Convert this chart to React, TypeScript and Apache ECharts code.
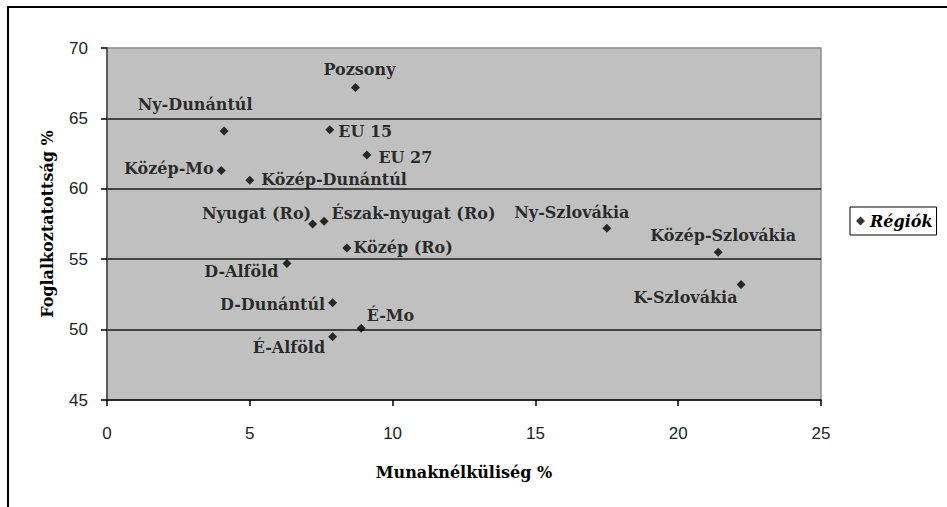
import React, { useEffect, useRef } from "react";
import * as echarts from "echarts";

const regions = [
  "Pozsony", "Ny-Dunántúl", "EU 15", "EU 27", "Közép-Mo", "Közép-Dunántúl",
  "Nyugat (Ro)", "Észak-nyugat (Ro)", "Közép (Ro)", "D-Alföld", "D-Dunántúl",
  "É-Mo", "É-Alföld", "Ny-Szlovákia", "Közép-Szlovákia", "K-Szlovákia",
];
const unemployment = [8.7, 4.1, 7.8, 9.1, 4.0, 5.0, 7.2, 7.6, 8.4, 6.3, 7.9, 8.9, 7.9, 17.5, 21.4, 22.2];
const employment = [67.2, 64.1, 64.2, 62.4, 61.3, 60.6, 57.5, 57.7, 55.8, 54.7, 51.9, 50.1, 49.5, 57.2, 55.5, 53.2];
const xTicks = { min: 0, max: 25, interval: 5 };
const yTicks = { min: 45, max: 70, interval: 5 };
const seriesName = "Régiók";
const xTitle = "Munaknélküliség %";
const yTitle = "Foglalkoztatottság %";

// label placement (style only)
const labelPlace: Record<string, { position: string; offset: [number, number] }> = {
  "Pozsony": { position: "top", offset: [4, 0] },
  "Ny-Dunántúl": { position: "top", offset: [-29, -9] },
  "EU 15": { position: "right", offset: [-1, 2] },
  "EU 27": { position: "right", offset: [2, 2] },
  "Közép-Mo": { position: "left", offset: [2, -2] },
  "Közép-Dunántúl": { position: "right", offset: [2, -1] },
  "Nyugat (Ro)": { position: "left", offset: [8, -11] },
  "Észak-nyugat (Ro)": { position: "right", offset: [-2, -8] },
  "Közép (Ro)": { position: "right", offset: [-3, 0] },
  "D-Alföld": { position: "left", offset: [1, 8] },
  "D-Dunántúl": { position: "left", offset: [2, 2] },
  "É-Mo": { position: "right", offset: [-4, -13] },
  "É-Alföld": { position: "left", offset: [2, 11] },
  "Ny-Szlovákia": { position: "top", offset: [-35, 2] },
  "Közép-Szlovákia": { position: "top", offset: [5, 1] },
  "K-Szlovákia": { position: "left", offset: [6, 13] },
};

const serifBold = "'DejaVu Serif', 'Liberation Serif', serif";

export default function App() {
  const ref = useRef<HTMLDivElement>(null);
  useEffect(() => {
    if (!ref.current) return;
    const chart = echarts.init(ref.current, null, { renderer: "svg" });
    const data = regions.map((name, i) => {
      const p = labelPlace[name];
      return {
        name,
        value: [unemployment[i], employment[i]],
        label: { position: p.position, distance: 5 },
      };
    });
    chart.setOption({
      animation: false,
      backgroundColor: "#ffffff",
      graphic: [
        {
          type: "rect",
          z: -1,
          silent: true,
          shape: { x: 8, y: 7, width: 1000, height: 600 },
          style: { fill: "none", stroke: "#000", lineWidth: 2 },
        },
      ],
      grid: {
        left: 107,
        right: 126,
        top: 48,
        bottom: 107,
        show: true,
        backgroundColor: "#c0c0c0",
        borderColor: "#8a8a8a",
        borderWidth: 1.5,
      },
      legend: {
        left: 850,
        top: 207,
        orient: "vertical",
        icon: "diamond",
        itemWidth: 9,
        itemHeight: 9,
        itemGap: 4,
        padding: [6, 4, 6, 6],
        borderColor: "#000",
        borderWidth: 1,
        backgroundColor: "#fff",
        textStyle: {
          fontFamily: serifBold,
          fontWeight: "bold",
          fontStyle: "italic",
          fontSize: 16,
          color: "#000",
        },
        data: [seriesName],
      },
      xAxis: {
        type: "value",
        min: xTicks.min,
        max: xTicks.max,
        interval: xTicks.interval,
        name: xTitle,
        nameLocation: "middle",
        nameGap: 64,
        nameTextStyle: { fontFamily: serifBold, fontWeight: "bold", fontSize: 16, color: "#000" },
        axisLine: { show: true, lineStyle: { color: "#000", width: 1.5 } },
        axisTick: { show: true, length: 6, inside: false, lineStyle: { color: "#000", width: 1.5 } },
        axisLabel: {
          margin: 25,
          fontFamily: "'Liberation Sans Narrow', 'Liberation Sans', sans-serif",
          fontSize: 17,
          color: "#222",
        },
        splitLine: { show: false },
      },
      yAxis: {
        type: "value",
        min: yTicks.min,
        max: yTicks.max,
        interval: yTicks.interval,
        name: yTitle,
        nameLocation: "middle",
        nameGap: 52,
        nameRotate: 90,
        nameTextStyle: { fontFamily: serifBold, fontWeight: "bold", fontSize: 16, color: "#000" },
        axisLine: { show: true, lineStyle: { color: "#444", width: 1.5 } },
        axisTick: { show: true, length: 6, inside: false, lineStyle: { color: "#000", width: 1.5 } },
        axisLabel: {
          margin: 19,
          fontFamily: "'Liberation Sans Narrow', 'Liberation Sans', sans-serif",
          fontSize: 17,
          color: "#222",
        },
        splitLine: {
          show: true,
          showMinLine: false,
          showMaxLine: false,
          lineStyle: { color: "#1a1a1a", width: 1.5 },
        },
      },
      series: [
        {
          name: seriesName,
          type: "scatter",
          symbol: "diamond",
          symbolSize: 9,
          itemStyle: { color: "#000" },
          label: {
            show: true,
            formatter: "{b}",
            fontFamily: serifBold,
            fontWeight: "bold",
            fontSize: 16,
            color: "#000",
          },
          labelLayout: (params: any) => {
            const p = labelPlace[regions[params.dataIndex]];
            return { dx: p.offset[0], dy: p.offset[1], hideOverlap: false };
          },
          data,
        },
      ],
    });
    return () => chart.dispose();
  }, []);
  return <div ref={ref} style={{ width: 947, height: 507, position: "absolute", left: 0, top: 0 }} />;
}
